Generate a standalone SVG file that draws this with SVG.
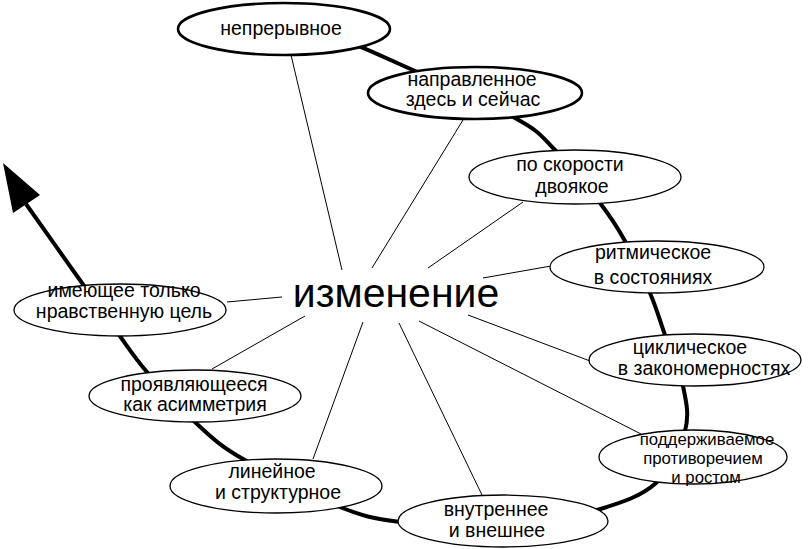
<svg xmlns="http://www.w3.org/2000/svg" width="812" height="549" viewBox="0 0 812 549">
<style>
  .node ellipse { fill: #fff; stroke: #000; stroke-width: 1.3; }
  .node.bold ellipse { stroke-width: 2.6; }
  text { font-family: "Liberation Sans", Arial, sans-serif; font-size: 19.5px; fill: #000; text-anchor: middle; }
  .tight text { font-size: 16.8px; }
  .spoke { stroke: #000; stroke-width: 1; fill: none; }
  .spiral { stroke: #000; stroke-width: 4; fill: none; }
</style>
<rect width="812" height="549" fill="#fff"/>
<g id="connectors">
  <path class="spiral" d="M340,38 C349.2,42 365.8,48.7 395,62 C424.2,75.3 488.3,103.3 515,118 C541.7,132.7 540.8,135.8 555,150 C569.2,164.2 588.3,187.8 600,203 C611.7,218.2 616.7,226 625,241 C633.3,256 643.3,277.3 650,293 C656.7,308.7 659.5,319.5 665,335 C670.5,350.5 679.7,370 683,386 C686.3,402 689.5,414.8 685,431 C680.5,447.2 670.7,469.8 656,483 C641.3,496.2 623,502.2 597,510 C571,517.8 532.8,528 500,530 C467.2,532 426.7,525.8 400,522 C373.3,518.2 366.2,517.5 340,507 C313.8,496.5 266.8,472.8 243,459 C219.2,445.2 213,438.5 197,424 C181,409.5 160.3,387.3 147,372 C133.7,356.7 127.8,346.8 117,332 C106.2,317.2 97.2,304.3 82,283 C66.8,261.7 35.3,217.2 26,204"/>
  <polygon points="3,163 40,195 13,213" fill="#000"/>
  <line class="spoke" x1="342" y1="270" x2="291" y2="55"/>
  <line class="spoke" x1="372" y1="268" x2="463" y2="120"/>
  <line class="spoke" x1="428" y1="268" x2="523" y2="202"/>
  <line class="spoke" x1="483" y1="278" x2="551" y2="266"/>
  <line class="spoke" x1="468" y1="315" x2="590" y2="361"/>
  <line class="spoke" x1="419" y1="321" x2="641" y2="434"/>
  <line class="spoke" x1="399" y1="323" x2="482" y2="495"/>
  <line class="spoke" x1="363" y1="322" x2="313" y2="459"/>
  <line class="spoke" x1="305" y1="316" x2="212" y2="369"/>
  <line class="spoke" x1="282" y1="297" x2="227" y2="302"/>
</g>
<g id="center"><text x="396" y="307" style="font-size:41px">изменение</text></g>
<g id="n1" class="node bold"><ellipse cx="284" cy="29" rx="106" ry="26"/><text x="281" y="35">непрерывное</text></g>
<g id="n2" class="node bold"><ellipse cx="475" cy="93" rx="107" ry="26"/><text x="472" y="86">направленное</text><text x="473" y="106">здесь и сейчас</text></g>
<g id="n3" class="node"><ellipse cx="575" cy="177" rx="106" ry="27"/><text x="570" y="171">по скорости</text><text x="572" y="193">двоякое</text></g>
<g id="n4" class="node"><ellipse cx="657" cy="267" rx="107" ry="26"/><text x="653" y="259">ритмическое</text><text x="653" y="284">в состояниях</text></g>
<g id="n5" class="node"><ellipse cx="695" cy="360" rx="106" ry="26"/><text x="690" y="354">циклическое</text><text x="704" y="375">в закономерностях</text></g>
<g id="n6" class="node tight"><ellipse cx="693" cy="457" rx="94" ry="27"/><text x="707" y="445">поддерживаемое</text><text x="703" y="464">противоречием</text><text x="706" y="483">и ростом</text></g>
<g id="n7" class="node"><ellipse cx="503" cy="521" rx="105" ry="26"/><text x="496" y="516">внутреннее</text><text x="497" y="537">и внешнее</text></g>
<g id="n8" class="node"><ellipse cx="276" cy="486" rx="106" ry="27"/><text x="272" y="478">линейное</text><text x="278" y="499">и структурное</text></g>
<g id="n9" class="node"><ellipse cx="195" cy="396" rx="106" ry="26"/><text x="194" y="391">проявляющееся</text><text x="195" y="411">как асимметрия</text></g>
<g id="n10" class="node"><ellipse cx="120" cy="310" rx="106" ry="26"/><text x="124" y="297">имеющее только</text><text x="124" y="318">нравственную цель</text></g>
</svg>
